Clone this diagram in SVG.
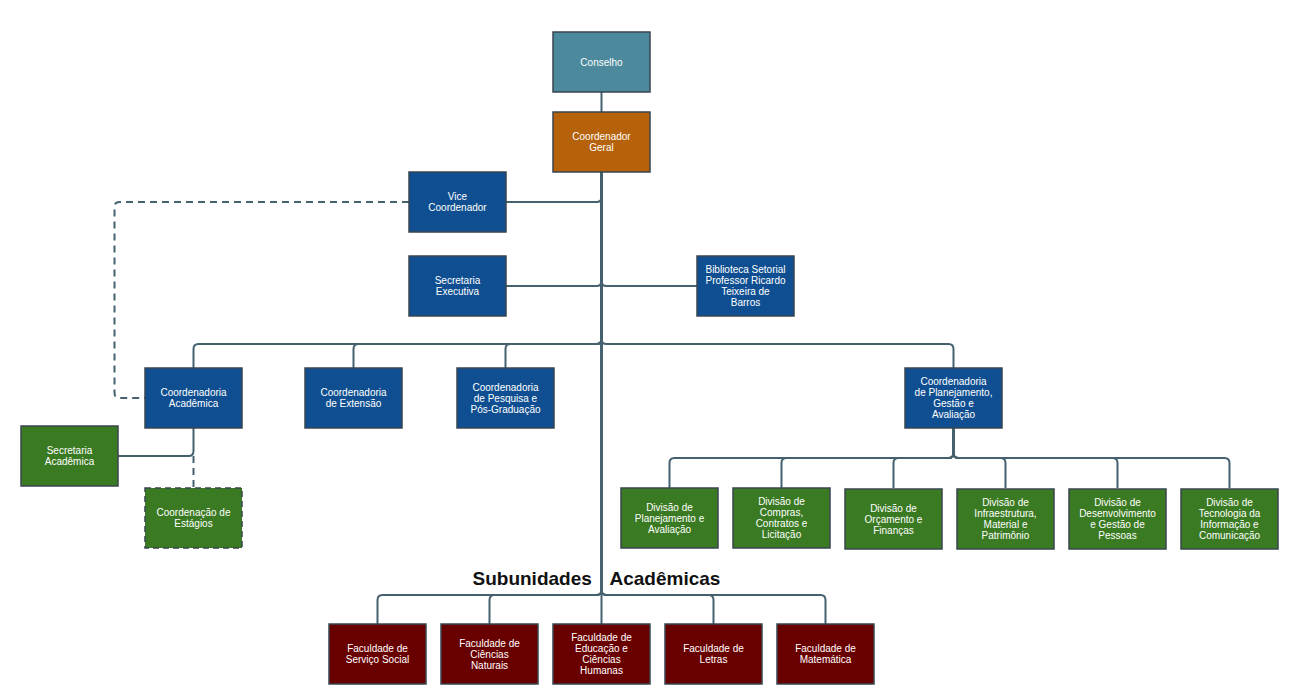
<svg xmlns="http://www.w3.org/2000/svg" width="1298" height="700" viewBox="0 0 1298 700">
<style>
.b{stroke:#3a4650;stroke-width:1.5}
.teal{fill:#4c899c}
.orange{fill:#b5620a}
.blue{fill:#0f4f91}
.green{fill:#3a7a22}
.red{fill:#690000}
.dash{stroke-dasharray:6 4}
.t{font-family:"Liberation Sans",Arial,sans-serif;font-size:10px;fill:#ffffff;text-anchor:middle}
.c{fill:none;stroke:#45616f;stroke-width:2}
.cd{fill:none;stroke:#45616f;stroke-width:2;stroke-dasharray:7 5}
.h{font-family:"Liberation Sans",Arial,sans-serif;font-size:19px;font-weight:bold;fill:#111111}
</style>
<rect width="1298" height="700" fill="#ffffff"/>
<g id="connectors">
<path class="c" d="M601.5,92 V112"/>
<path class="c" d="M601.5,172 V197 Q601.5,202 596.5,202 H506"/>
<path class="c" d="M601.5,172 V281 Q601.5,286 596.5,286 H506"/>
<path class="c" d="M601.5,172 V281 Q601.5,286 606.5,286 H697"/>
<path class="c" d="M601.5,172 V339 Q601.5,344 596.5,344 H198.5 Q193.5,344 193.5,349 V368"/>
<path class="c" d="M601.5,172 V339 Q601.5,344 596.5,344 H358.5 Q353.5,344 353.5,349 V368"/>
<path class="c" d="M601.5,172 V339 Q601.5,344 596.5,344 H510.5 Q505.5,344 505.5,349 V368"/>
<path class="c" d="M601.5,172 V339 Q601.5,344 606.5,344 H948.5 Q953.5,344 953.5,349 V368"/>
<path class="c" d="M601.5,172 V590 Q601.5,595 596.5,595 H382.5 Q377.5,595 377.5,600 V624"/>
<path class="c" d="M601.5,172 V590 Q601.5,595 596.5,595 H494.5 Q489.5,595 489.5,600 V624"/>
<path class="c" d="M601.5,172 V624"/>
<path class="c" d="M601.5,172 V590 Q601.5,595 606.5,595 H708.5 Q713.5,595 713.5,600 V624"/>
<path class="c" d="M601.5,172 V590 Q601.5,595 606.5,595 H820.5 Q825.5,595 825.5,600 V624"/>
<path class="c" d="M953.5,428 V453 Q953.5,458 948.5,458 H674.5 Q669.5,458 669.5,463 V488"/>
<path class="c" d="M953.5,428 V453 Q953.5,458 948.5,458 H786.5 Q781.5,458 781.5,463 V488"/>
<path class="c" d="M953.5,428 V453 Q953.5,458 948.5,458 H898.5 Q893.5,458 893.5,463 V488"/>
<path class="c" d="M953.5,428 V453 Q953.5,458 958.5,458 H1000.5 Q1005.5,458 1005.5,463 V488"/>
<path class="c" d="M953.5,428 V453 Q953.5,458 958.5,458 H1112.5 Q1117.5,458 1117.5,463 V488"/>
<path class="c" d="M953.5,428 V453 Q953.5,458 958.5,458 H1224.5 Q1229.5,458 1229.5,463 V488"/>
<path class="c" d="M193.5,428 V451 Q193.5,456 188.5,456 H118"/>
<path class="cd" d="M193.5,456 V488"/>
<path class="cd" d="M409,202 H119.5 Q114.5,202 114.5,207 V393 Q114.5,398 119.5,398 H145"/>
</g>
<g id="conselho"><rect class="b teal" x="553" y="32" width="97" height="60"/><text class="t" x="601.5" y="65.5">Conselho</text></g>
<g id="coordenador-geral"><rect class="b orange" x="553" y="112" width="97" height="60"/><text class="t" x="601.5" y="140">Coordenador</text><text class="t" x="601.5" y="151">Geral</text></g>
<g id="vice-coordenador"><rect class="b blue" x="409" y="172" width="97" height="60"/><text class="t" x="457.5" y="200">Vice</text><text class="t" x="457.5" y="211">Coordenador</text></g>
<g id="secretaria-executiva"><rect class="b blue" x="409" y="256" width="97" height="60"/><text class="t" x="457.5" y="284">Secretaria</text><text class="t" x="457.5" y="295">Executiva</text></g>
<g id="biblioteca"><rect class="b blue" x="697" y="256" width="97" height="60"/><text class="t" x="745.5" y="273">Biblioteca Setorial</text><text class="t" x="745.5" y="284">Professor Ricardo</text><text class="t" x="745.5" y="295">Teixeira de</text><text class="t" x="745.5" y="306">Barros</text></g>
<g id="coord-academica"><rect class="b blue" x="145" y="368" width="97" height="60"/><text class="t" x="193.5" y="396">Coordenadoria</text><text class="t" x="193.5" y="407">Acadêmica</text></g>
<g id="coord-extensao"><rect class="b blue" x="305" y="368" width="97" height="60"/><text class="t" x="353.5" y="396">Coordenadoria</text><text class="t" x="353.5" y="407">de Extensão</text></g>
<g id="coord-pesquisa"><rect class="b blue" x="457" y="368" width="97" height="60"/><text class="t" x="505.5" y="390.5">Coordenadoria</text><text class="t" x="505.5" y="401.5">de Pesquisa e</text><text class="t" x="505.5" y="412.5">Pós-Graduação</text></g>
<g id="coord-planejamento"><rect class="b blue" x="905" y="368" width="97" height="60"/><text class="t" x="953.5" y="384.5">Coordenadoria</text><text class="t" x="953.5" y="395.5">de Planejamento,</text><text class="t" x="953.5" y="406.5">Gestão e</text><text class="t" x="953.5" y="417.5">Avaliação</text></g>
<g id="secretaria-academica"><rect class="b green" x="21" y="426" width="97" height="60"/><text class="t" x="69.5" y="454">Secretaria</text><text class="t" x="69.5" y="465">Acadêmica</text></g>
<g id="coord-estagios"><rect class="b green dash" x="145" y="488" width="97" height="60"/><text class="t" x="193.5" y="516">Coordenação de</text><text class="t" x="193.5" y="527">Estágios</text></g>
<g id="div-planejamento"><rect class="b green" x="621" y="488" width="97" height="60"/><text class="t" x="669.5" y="510.5">Divisão de</text><text class="t" x="669.5" y="521.5">Planejamento e</text><text class="t" x="669.5" y="532.5">Avaliação</text></g>
<g id="div-compras"><rect class="b green" x="733" y="488" width="97" height="60"/><text class="t" x="781.5" y="505">Divisão de</text><text class="t" x="781.5" y="516">Compras,</text><text class="t" x="781.5" y="527">Contratos e</text><text class="t" x="781.5" y="538">Licitação</text></g>
<g id="div-orcamento"><rect class="b green" x="845" y="489" width="97" height="60"/><text class="t" x="893.5" y="511.5">Divisão de</text><text class="t" x="893.5" y="522.5">Orçamento e</text><text class="t" x="893.5" y="533.5">Finanças</text></g>
<g id="div-infraestrutura"><rect class="b green" x="957" y="489" width="97" height="60"/><text class="t" x="1005.5" y="506">Divisão de</text><text class="t" x="1005.5" y="517">Infraestrutura,</text><text class="t" x="1005.5" y="528">Material e</text><text class="t" x="1005.5" y="539">Patrimônio</text></g>
<g id="div-desenvolvimento"><rect class="b green" x="1069" y="489" width="97" height="60"/><text class="t" x="1117.5" y="506">Divisão de</text><text class="t" x="1117.5" y="517">Desenvolvimento</text><text class="t" x="1117.5" y="528">e Gestão de</text><text class="t" x="1117.5" y="539">Pessoas</text></g>
<g id="div-tecnologia"><rect class="b green" x="1181" y="489" width="97" height="60"/><text class="t" x="1229.5" y="506">Divisão de</text><text class="t" x="1229.5" y="517">Tecnologia da</text><text class="t" x="1229.5" y="528">Informação e</text><text class="t" x="1229.5" y="539">Comunicação</text></g>
<g id="subunidades-label"><text class="h"><tspan x="472.5" y="585">Subunidades</tspan><tspan x="609.5" y="585">Acadêmicas</tspan></text></g>
<g id="fac-servico-social"><rect class="b red" x="329" y="624" width="97" height="60"/><text class="t" x="377.5" y="652">Faculdade de</text><text class="t" x="377.5" y="663">Serviço Social</text></g>
<g id="fac-ciencias-naturais"><rect class="b red" x="441" y="624" width="97" height="60"/><text class="t" x="489.5" y="646.5">Faculdade de</text><text class="t" x="489.5" y="657.5">Ciências</text><text class="t" x="489.5" y="668.5">Naturais</text></g>
<g id="fac-educacao"><rect class="b red" x="553" y="624" width="97" height="60"/><text class="t" x="601.5" y="641">Faculdade de</text><text class="t" x="601.5" y="652">Educação e</text><text class="t" x="601.5" y="663">Ciências</text><text class="t" x="601.5" y="674">Humanas</text></g>
<g id="fac-letras"><rect class="b red" x="665" y="624" width="97" height="60"/><text class="t" x="713.5" y="652">Faculdade de</text><text class="t" x="713.5" y="663">Letras</text></g>
<g id="fac-matematica"><rect class="b red" x="777" y="624" width="97" height="60"/><text class="t" x="825.5" y="652">Faculdade de</text><text class="t" x="825.5" y="663">Matemática</text></g>
</svg>
